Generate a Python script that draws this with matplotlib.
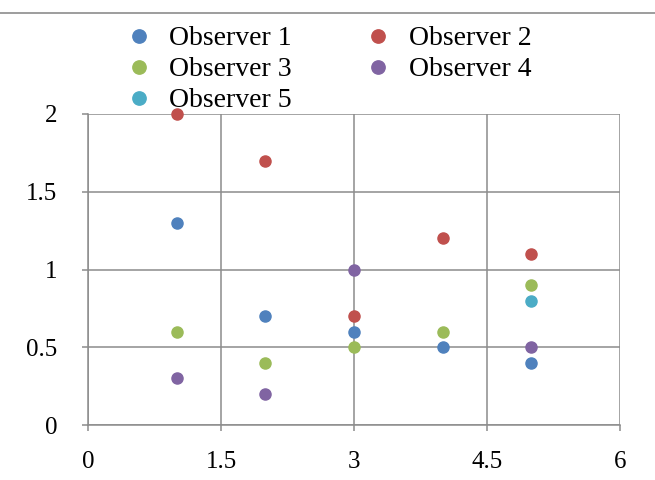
import numpy as np
import matplotlib.pyplot as plt
from matplotlib.lines import Line2D

plt.rcParams['font.family'] = ['Liberation Serif', 'DejaVu Serif']

x = [1, 2, 3, 4, 5]
obs1 = [1.3, 0.7, 0.6, 0.5, 0.4]
obs2 = [2.0, 1.7, 0.7, 1.2, 1.1]
obs3 = [0.6, 0.4, 0.5, 0.6, 0.9]
obs4 = [0.3, 0.2, 1.0, np.nan, 0.5]
obs5 = [np.nan, np.nan, np.nan, np.nan, 0.8]

names = ['Observer 1', 'Observer 2', 'Observer 3', 'Observer 4', 'Observer 5']
colors = ['#4F81BD', '#C0504D', '#9BBB59', '#8064A2', '#4BACC6']

fig = plt.figure(figsize=(6.55, 4.8), dpi=100)
ax = fig.add_axes([88 / 655, 1 - 425 / 480, 532 / 655, 311 / 480])

for vals, name, c in zip([obs1, obs2, obs3, obs4, obs5], names, colors):
    ax.plot(x, vals, 'o', color=c, markersize=8, label=name, zorder=3,
            clip_on=False)

ax.set_xlim(0, 6)
ax.set_ylim(0, 2)
ax.set_xticks([0, 1.5, 3, 4.5, 6])
ax.set_xticklabels(['0', '1.5', '3', '4.5', '6'])
ax.set_yticks([0, 0.5, 1, 1.5, 2])
ax.set_yticklabels(['0', '0.5', '1', '1.5', '2'])
ax.grid(True, color='#8c8c8c', linewidth=1.1)
ax.set_axisbelow(True)
for s in ['top', 'right']:
    ax.spines[s].set_visible(False)
for s in ['left', 'bottom']:
    ax.spines[s].set_color('#8c8c8c')
    ax.spines[s].set_linewidth(1.1)
ax.tick_params(axis='both', direction='out', length=4, width=1.1,
               color='#8c8c8c', labelsize=18)
ax.tick_params(axis='x', pad=15)
ax.tick_params(axis='y', pad=18)

# legend: row order 1,2 / 3,4 / 5
order = [0, 2, 4, 1, 3]
h, l = ax.get_legend_handles_labels()
fig.legend([h[i] for i in order], [l[i] for i in order], ncol=2,
           loc='upper left', bbox_to_anchor=(125 / 655, 1 - 26 / 480),
           frameon=False, fontsize=20, handlelength=1.0, handletextpad=0.6,
           labelspacing=0.2, columnspacing=2.6, markerscale=1.2,
           borderpad=0, borderaxespad=0)

fig.add_artist(Line2D([0, 1], [1 - 13 / 480, 1 - 13 / 480],
                      transform=fig.transFigure, color='#8c8c8c', linewidth=1.2))

fig.savefig('out.png', dpi=100)
